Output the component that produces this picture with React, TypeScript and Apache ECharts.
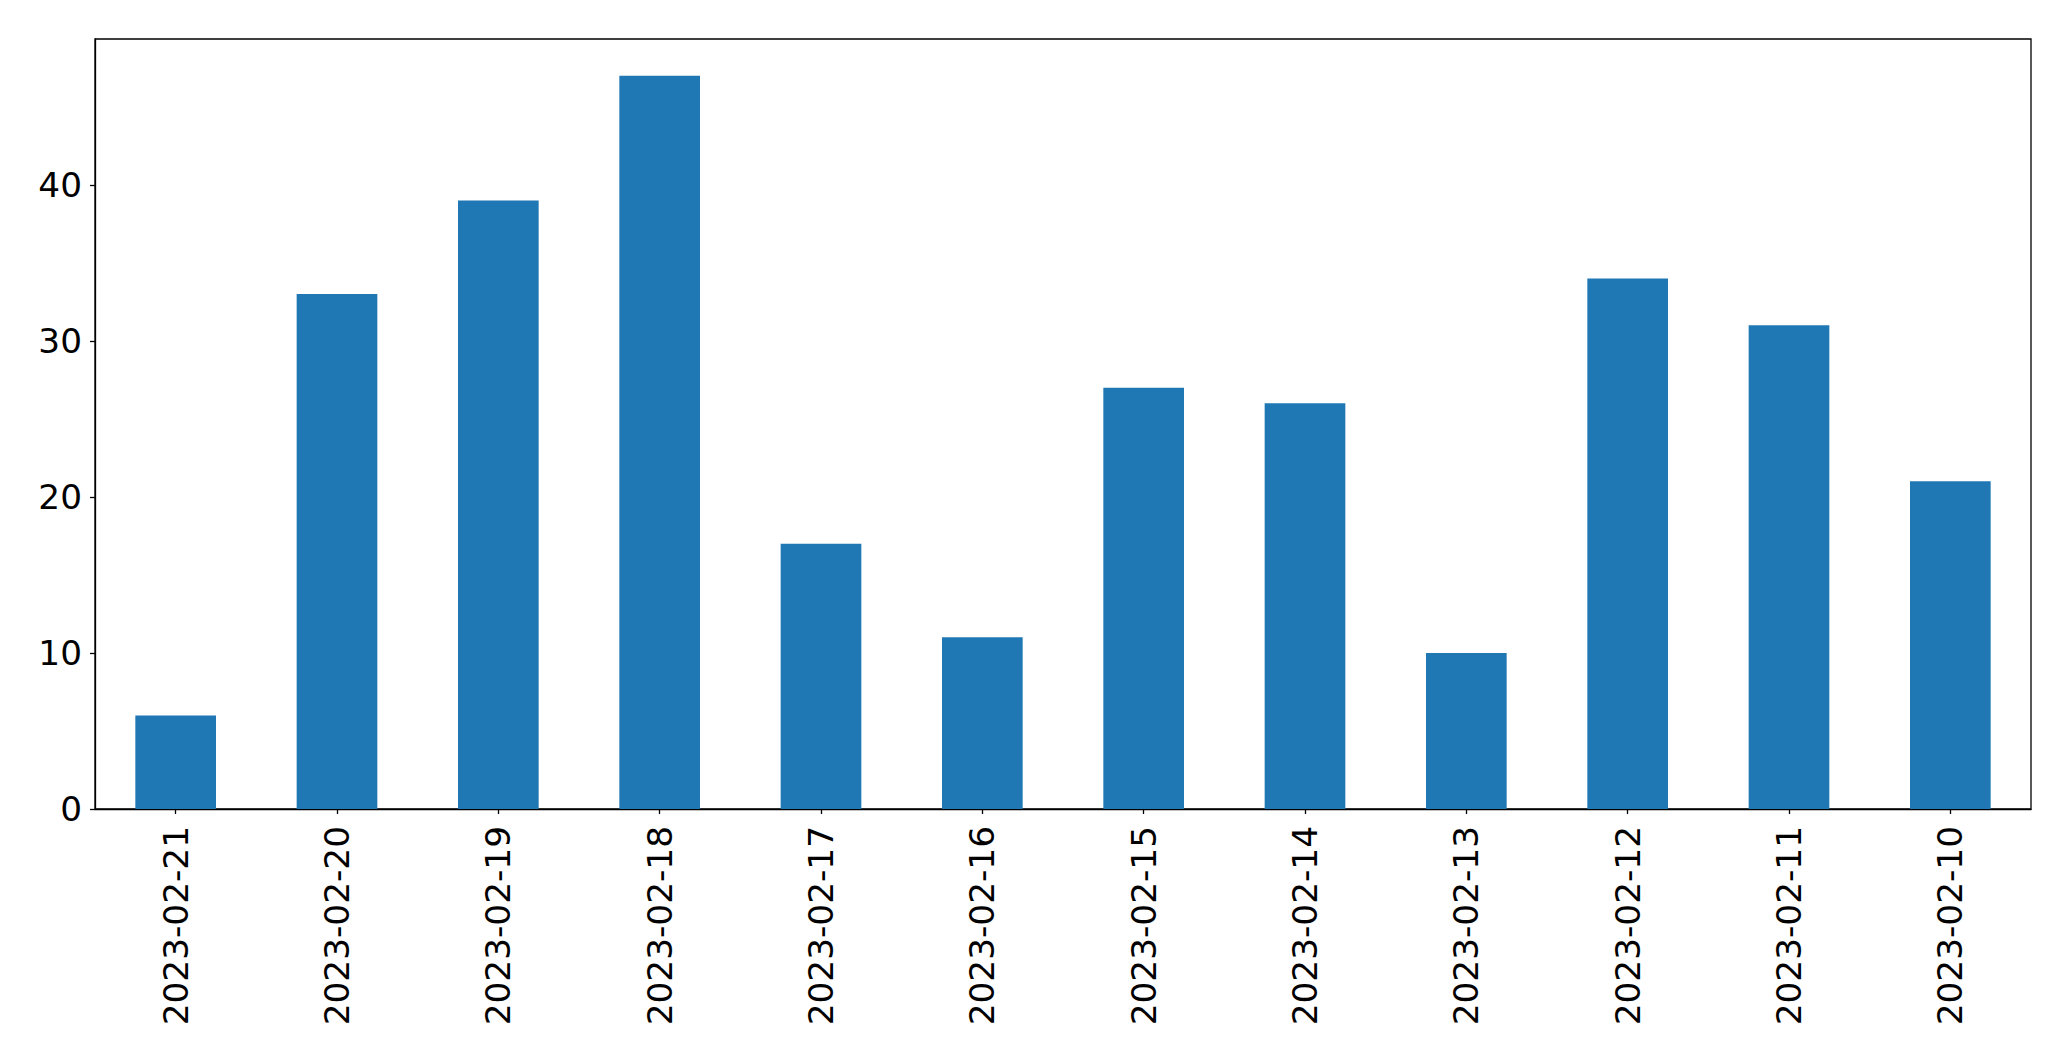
import React, { useEffect, useRef } from "react";
import * as echarts from "echarts";

const categories = [
  "2023-02-21", "2023-02-20", "2023-02-19", "2023-02-18", "2023-02-17", "2023-02-16",
  "2023-02-15", "2023-02-14", "2023-02-13", "2023-02-12", "2023-02-11", "2023-02-10",
];
const values = [6, 33, 39, 47, 17, 11, 27, 26, 10, 34, 31, 21];
const yMax = 49.35;

export default function App() {
  const ref = useRef<HTMLDivElement>(null);
  useEffect(() => {
    if (!ref.current) return;
    const chart = echarts.init(ref.current, null, { renderer: "svg" });
    const font = "DejaVu Sans";
    chart.setOption({
      animation: false,
      backgroundColor: "#ffffff",
      grid: {
        left: 95, right: 40, top: 39, bottom: 252,
        show: true, borderColor: "#000000", borderWidth: 1.3, backgroundColor: "transparent",
      },
      xAxis: {
        type: "category",
        data: categories,
        axisLine: { show: true, lineStyle: { color: "#000", width: 1.3 } },
        axisTick: { show: true, alignWithLabel: true, length: 5, lineStyle: { color: "#000", width: 1.3 } },
        axisLabel: {
          rotate: 90, margin: 17, color: "#000", fontFamily: font, fontSize: 34.3, interval: 0,
        },
        splitLine: { show: false },
      },
      yAxis: {
        type: "value",
        min: 0,
        max: yMax,
        interval: 10,
        axisLine: { show: true, lineStyle: { color: "#000", width: 1.3 } },
        axisTick: { show: true, length: 5, lineStyle: { color: "#000", width: 1.3 } },
        axisLabel: {
          margin: 13, color: "#000", fontFamily: font, fontSize: 34.3,
          showMaxLabel: false,
          formatter: (v: number) => (v % 10 === 0 ? String(v) : ""),
        },
        splitLine: { show: false },
      },
      series: [
        {
          type: "bar",
          data: values,
          barWidth: "50%",
          itemStyle: { color: "#1f77b4" },
        },
      ],
    });
    return () => chart.dispose();
  }, []);
  return (
    <div
      ref={ref}
      style={{ position: "fixed", left: 0, top: 0, width: 2071, height: 1061, background: "#fff" }}
    />
  );
}
